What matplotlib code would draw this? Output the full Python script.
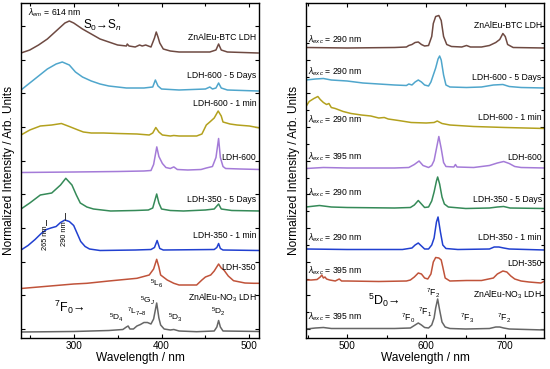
import matplotlib
matplotlib.use("Agg")
import matplotlib.pyplot as plt
from matplotlib.ticker import MultipleLocator
import numpy as np

plt.rcParams['font.family'] = ['Liberation Sans', 'DejaVu Sans']
plt.rcParams['mathtext.fontset'] = 'custom'
plt.rcParams['mathtext.rm'] = 'Liberation Sans'
plt.rcParams['mathtext.it'] = 'Liberation Sans:italic'

# ---------------- Data: excitation spectra (left panel) ----------------
labels = ["ZnAlEu-BTC LDH", "LDH-600 - 5 Days", "LDH-600 - 1 min", "LDH-600",
          "LDH-350 - 5 Days", "LDH-350 - 1 min", "LDH-350", "ZnAlEu-NO$_3$ LDH"]
colors = ["#6e4a42", "#4fa6cc", "#b3a11e", "#a47bd8",
          "#358a58", "#2140d0", "#c0533a", "#666666"]

exc_offsets = [285, 247, 202, 165.5, 127, 87.5, 49, 6]
exc_wl = [
    [240, 250, 260, 270, 280, 290, 295, 300, 310, 320, 330, 340, 350, 360, 361, 363, 370, 375, 378, 382, 388, 392, 394, 396, 398, 402, 410, 420, 440, 455, 462, 465, 468, 475, 510],
    [240, 250, 260, 270, 280, 287, 295, 302, 310, 320, 330, 340, 360, 380, 390, 393, 396, 400, 420, 450, 455, 458, 462, 465, 468, 475, 510],
    [240, 250, 262, 275, 286, 295, 305, 311, 320, 334, 350, 372, 386, 390, 393.5, 397, 401, 410, 414, 420, 440, 446, 451, 455, 460, 464.5, 468, 470, 478, 486, 500, 512],
    [240, 300, 350, 380, 388, 391, 394.6, 397, 401, 405, 410, 414, 418, 430, 445, 451, 458, 462, 465, 467, 470, 473, 490, 512],
    [240, 250, 262, 275, 285, 291, 298, 303, 307.5, 315, 322.5, 342, 370, 385, 390, 394.5, 397, 400, 410, 425, 450, 460, 465, 468, 480, 512],
    [240, 248, 256, 263, 269, 274, 280, 285, 290, 295, 300, 304, 308, 313, 318, 330, 370, 388, 392, 395, 398, 402, 460, 463, 465, 467, 470, 512],
    [240, 260, 280, 300, 315, 340, 372, 386, 391, 394.5, 397, 399, 406.5, 414, 420, 440, 446, 450, 456, 460, 465, 468, 471, 476, 482, 495, 505, 512],
    [240, 300, 340, 356, 360, 362, 364, 368, 372, 376, 380, 384, 388, 391, 394.5, 397, 399, 403, 410, 414, 420, 440, 460, 463, 465, 467, 470, 512],
]
exc_int = [
    [0, 3, 8, 14, 22, 30, 32, 30, 24, 19, 14, 11, 8, 7, 9, 7, 6, 8, 7, 8, 6, 15, 21, 16, 10, 4, 2, 1, 1, 1, 3, 9, 3, 1, 0],
    [1, 8, 15, 22, 27, 29, 26, 19, 14, 10, 7, 5, 3, 3, 4, 11, 5, 2, 1, 2, 4, 2, 3, 8, 3, 1, 0],
    [1, 6, 10, 11, 12.5, 9.5, 6, 4, 3, 3, 2.5, 2, 1, 3, 8.5, 4, 1, 0, 0.5, 0, 0, 2, 11, 14, 18, 25, 20, 14, 12, 11, 10, 8],
    [0, 0.5, 1, 1.5, 2, 8, 25.6, 16, 9, 5, 4, 5.6, 3, 2.5, 3, 4.5, 6, 15, 34, 15, 6, 4, 3.5, 3],
    [2, 8, 16, 18, 26, 32.7, 26, 16, 8, 4, 2, 0, 0.5, 1, 3, 17, 8, 2, 0.5, 0, 1, 2, 7, 2, 0.5, 0],
    [0.5, 5, 11, 17, 21, 22.5, 24, 28, 30.5, 29, 25, 17, 9, 4, 1.5, 0, 0.5, 1, 3, 10, 2, 0.5, 1, 3, 7, 2, 0.5, 0],
    [0.5, 2, 3.5, 5, 5.7, 8, 10.7, 14, 20, 29.7, 22, 14, 9, 5.7, 4, 4, 9, 12, 14, 18, 25, 21, 19, 13, 8.3, 6, 5.7, 5.7],
    [0, 0.5, 1.5, 2.5, 5, 6, 3, 3, 6, 7.5, 9.5, 9.5, 8, 13, 29, 14, 7, 3, 2, 2.5, 1, 0.3, 1, 5, 11.5, 5, 1, 0.5],
]

# ---------------- Data: emission spectra (right panel) ----------------
em_offsets = [289.5, 250, 209.5, 169.5, 129, 88, 56, 8]
exc_lambda_labels = ["290 nm", "290 nm", "290 nm", "395 nm", "290 nm", "290 nm", "395 nm", "395 nm"]
em_wl = [
    [448, 500, 560, 575, 578, 582, 586, 590, 594, 598, 603, 607, 609, 612, 616, 619, 622, 626, 632, 645, 651, 656, 670, 680, 688, 693, 697, 700, 703, 710, 750],
    [448, 460, 470, 480, 500, 520, 540, 560, 575, 578, 582, 586, 590, 594, 598, 603, 606, 609, 612, 615, 617, 619, 622, 625, 630, 651, 670, 685, 697, 705, 720, 750],
    [448, 452, 458, 463, 466, 470, 474, 477, 480, 485, 495, 505, 518, 530, 540, 547, 552, 565, 581, 600, 610, 614, 620, 630, 660, 700, 750],
    [448, 470, 500, 560, 578, 585, 591, 596, 603, 607, 610, 613, 616, 619, 622, 625, 635, 637, 639, 660, 680, 690, 698, 705, 712, 720, 750],
    [448, 465, 480, 500, 560, 580, 585, 590, 594, 598, 603, 607, 610, 613, 614.5, 617, 620, 623, 628, 650, 680, 690, 698, 706, 750],
    [448, 500, 570, 582, 586, 590, 594, 598, 603, 607, 610, 613, 615, 618, 621, 625, 640, 680, 686, 692, 698, 705, 750],
    [448, 455, 462, 466, 468, 470, 472, 474, 478, 485, 490, 493, 500, 540, 575, 580, 585, 590, 594, 598, 602, 606, 609, 612, 616, 619, 621, 624, 630, 651, 670, 685, 690, 697, 702, 707, 712, 720, 730, 745, 750],
    [448, 460, 470, 480, 500, 560, 580, 586, 590, 594, 598, 603, 607, 610, 612, 614.5, 617, 620, 624, 630, 650, 680, 688, 693, 698, 705, 750],
]
em_int = [
    [1, 0.5, 1, 1.5, 3, 4, 6, 6.5, 4, 2.5, 3, 12, 25, 32, 33, 28, 12, 4, 2, 1.5, 3, 1.5, 1.5, 3, 6, 9, 15, 12, 4, 1, 0.5],
    [8, 9, 9.5, 8, 7, 5, 4, 3, 2.5, 4, 3, 6, 8, 6, 3, 2, 6, 13, 20, 29, 32, 28, 13, 3, 1, 0.5, 1, 3, 3.5, 1.5, 0.5, 0],
    [22, 27, 30, 32, 29, 26, 24, 25, 21, 20, 17, 15, 13.5, 12.5, 10.5, 11, 9.5, 8, 6, 5.5, 6, 7.5, 5, 3.5, 2, 1, 0],
    [0, 1, 0.5, 0.5, 1, 4, 7.5, 3, 1, 3, 8, 20, 32, 20, 6, 2, 1.5, 4, 1.5, 1, 3, 5.5, 7, 5, 2, 1, 0.5],
    [2, 3.5, 2, 1.5, 1, 1.5, 4, 8.5, 5, 1.5, 2, 8, 17, 28, 32, 25, 12, 5, 2, 0.5, 1, 2, 2.5, 1, 0.5],
    [1, 0.5, 0.5, 2, 5, 7, 4, 1, 1, 5, 12, 28, 33, 18, 5, 1.5, 0.5, 1, 3, 3, 2, 1, 0],
    [2, 2, 2.5, 5, 7, 4, 5, 3, 2, 1, 3, 1, 1, 0.5, 1, 2, 5, 9, 8, 4, 3, 8, 20, 24.5, 24, 22, 15, 4, 1, 1.5, 1.5, 4, 8, 11, 10, 6, 3, 1, 0, -1, 1],
    [1, 2, 2.5, 1.5, 1.5, 1.5, 2, 5, 7, 5, 2.5, 2, 5, 12, 22, 31, 20, 8, 3, 1.5, 1, 1.5, 3, 3, 2, 1, 0],
]

YMAX = 335
YTICKS = np.arange(9, YMAX, 33.65)

fig = plt.figure(figsize=(5.5, 3.69), dpi=100)
ax1 = fig.add_axes([21/550, 31/369, 238/550, 335/369])
ax2 = fig.add_axes([306/550, 31/369, 238/550, 335/369])

lab_fs = 6.2
LW = 1.1

# Left panel
for wl, it, off, c in zip(exc_wl, exc_int, exc_offsets, colors):
    ax1.plot(wl, np.array(it) + off, color=c, lw=LW)
ax1.set_xlim(240, 511)
ax1.set_ylim(0, YMAX)
ax1.xaxis.set_major_locator(MultipleLocator(100))
ax1.xaxis.set_minor_locator(MultipleLocator(50))
ax1.set_yticks(YTICKS)
ax1.set_yticklabels([])

exc_label_y = [300, 262, 235, 180, 139, 102, 70, 40]
for lab, y in zip(labels, exc_label_y):
    ax1.text(508, y, lab, ha='right', va='center', fontsize=lab_fs)

ax1.text(248, 325, r"$\lambda_{em}$ = 614 nm", ha='left', va='center', fontsize=lab_fs)
ax1.text(311, 313, r"S$_0$→S$_n$", ha='left', va='center', fontsize=8.5)
ax1.plot([268, 268], [113, 118], color='#333333', lw=0.7)
ax1.plot([290, 290], [118, 125], color='#333333', lw=0.7)
ax1.text(268, 112, "265 nm", rotation=90, ha='center', va='top', fontsize=5.3)
ax1.text(290, 117, "290 nm", rotation=90, ha='center', va='top', fontsize=5.3)
ax1.text(278, 31, r"$^7$F$_0$→", ha='left', va='center', fontsize=9)
ax1.text(349, 20, r"$^5$D$_4$", ha='center', va='center', fontsize=6)
ax1.text(372, 26, r"$^7$L$_{7\mathrm{-}8}$", ha='center', va='center', fontsize=6)
ax1.text(384, 37, r"$^5$G$_J$", ha='center', va='center', fontsize=6)
ax1.text(394, 54, r"$^5$L$_6$", ha='center', va='center', fontsize=6)
ax1.text(416, 20, r"$^5$D$_3$", ha='center', va='center', fontsize=6)
ax1.text(465, 26, r"$^5$D$_2$", ha='center', va='center', fontsize=6)

# Right panel
for wl, it, off, c in zip(em_wl, em_int, em_offsets, colors):
    ax2.plot(wl, np.array(it) + off, color=c, lw=LW)
ax2.set_xlim(448, 749)
ax2.set_ylim(0, YMAX)
ax2.xaxis.set_major_locator(MultipleLocator(100))
ax2.xaxis.set_minor_locator(MultipleLocator(50))
ax2.set_yticks(YTICKS)
ax2.set_yticks(YTICKS[:-1] + 33.65 / 2, minor=True)
ax2.set_yticklabels([])

em_label_y = [313, 260, 221, 181, 139, 101, 74, 43]
for lab, y in zip(labels, em_label_y):
    ax2.text(746, y, lab, ha='right', va='center', fontsize=lab_fs)
exc_text_y = [298, 266, 218, 181, 145, 100, 67, 21]
for t, y in zip(exc_lambda_labels, exc_text_y):
    ax2.text(451, y, r"$\lambda_{exc}$ = " + t, ha='left', va='center', fontsize=lab_fs)

ax2.text(527, 38, r"$^5$D$_0$→", ha='left', va='center', fontsize=9)
ax2.text(577, 20, r"$^7$F$_0$", ha='center', va='center', fontsize=6.2)
ax2.text(598, 26, r"$^7$F$_1$", ha='center', va='center', fontsize=6.2)
ax2.text(609, 45, r"$^7$F$_2$", ha='center', va='center', fontsize=6.2)
ax2.text(652, 20, r"$^7$F$_3$", ha='center', va='center', fontsize=6.2)
ax2.text(698, 20, r"$^7$F$_2$", ha='center', va='center', fontsize=6.2)

for ax in (ax1, ax2):
    ax.tick_params(axis='both', which='both', direction='in', top=True, right=True,
                   labelsize=7.2, pad=2)
    ax.tick_params(which='major', length=3, width=0.8)
    ax.tick_params(which='minor', length=2, width=0.8)
    for s in ax.spines.values():
        s.set_linewidth(1.0)
    ax.set_xlabel("Wavelength / nm", fontsize=8.6, labelpad=1)
    ax.set_ylabel("Normalized Intensity / Arb. Units", fontsize=8.6, labelpad=2)

fig.savefig("out.png", dpi=100)
